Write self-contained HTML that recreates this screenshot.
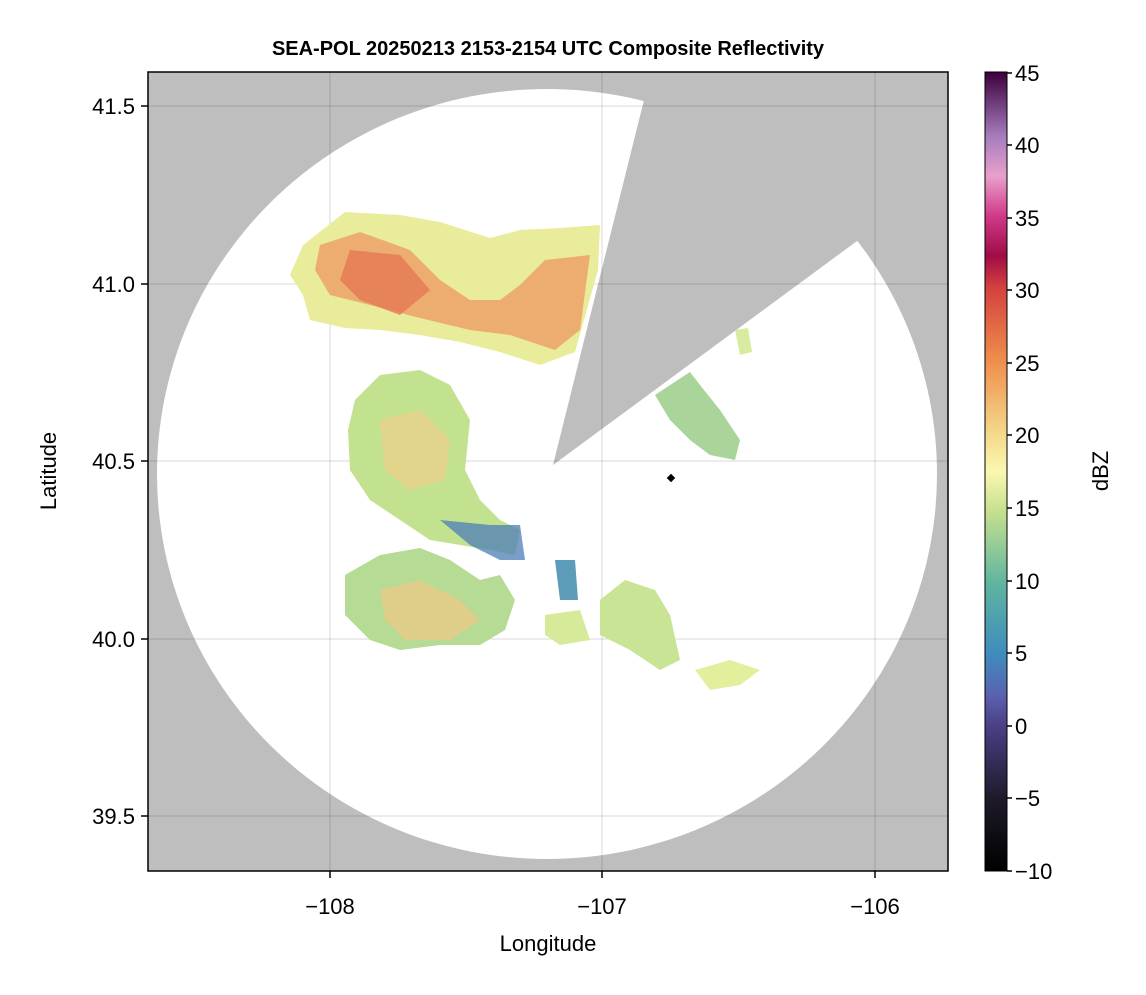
<!DOCTYPE html>
<html><head><meta charset="utf-8"><style>
body{margin:0;background:#fff;}
svg text{font-family:"Liberation Sans",sans-serif;}
</style></head><body>
<svg width="1146" height="990" viewBox="0 0 1146 990" xmlns="http://www.w3.org/2000/svg">
<defs>
<clipPath id="pa"><rect x="148" y="72" width="800" height="799"/></clipPath>
<linearGradient id="cb" x1="0" y1="1" x2="0" y2="0">
<stop offset="0" stop-color="#000000"/>
<stop offset="0.09" stop-color="#1e1a28"/>
<stop offset="0.18" stop-color="#4a3f85"/>
<stop offset="0.22" stop-color="#5a62b0"/>
<stop offset="0.27" stop-color="#3f8bbd"/>
<stop offset="0.36" stop-color="#5fb59f"/>
<stop offset="0.45" stop-color="#c5e08e"/>
<stop offset="0.5" stop-color="#fbf8b0"/>
<stop offset="0.55" stop-color="#f4d68a"/>
<stop offset="0.64" stop-color="#ef8d4b"/>
<stop offset="0.73" stop-color="#d4413f"/>
<stop offset="0.77" stop-color="#a00d45"/>
<stop offset="0.82" stop-color="#d0398a"/>
<stop offset="0.87" stop-color="#e8a0cc"/>
<stop offset="0.92" stop-color="#a57cbc"/>
<stop offset="1" stop-color="#3d003c"/>
</linearGradient>
</defs>
<g clip-path="url(#pa)">
<rect x="148" y="72" width="800" height="799" fill="#bebebe"/>
<ellipse cx="547" cy="474" rx="390" ry="385" fill="#fff"/>
<polygon points="553,465 651,72 948,72 948,174" fill="#bebebe"/>
<g stroke="#000" stroke-opacity="0.1" stroke-width="1.5">
<line x1="330" y1="72" x2="330" y2="871"/><line x1="602" y1="72" x2="602" y2="871"/><line x1="875" y1="72" x2="875" y2="871"/>
<line x1="148" y1="106" x2="948" y2="106"/><line x1="148" y1="284" x2="948" y2="284"/><line x1="148" y1="461" x2="948" y2="461"/><line x1="148" y1="639" x2="948" y2="639"/><line x1="148" y1="816" x2="948" y2="816"/>
</g>
<polygon points="303,245 345,212 400,215 440,222 490,238 520,230 560,228 600,225 598,270 575,352 540,365 500,352 460,342 420,335 380,330 345,328 310,320 303,295 290,275" fill="#e9ec9a"/>
<polygon points="320,245 360,232 410,250 440,280 470,300 500,300 520,285 545,260 590,255 580,330 555,350 510,335 470,330 420,318 370,305 330,295 315,270" fill="#ee9e66" opacity="0.8"/>
<polygon points="350,250 400,255 430,290 400,315 360,300 340,280" fill="#e3704e" opacity="0.7"/>
<polygon points="655,395 690,372 700,385 720,410 740,440 735,460 710,455 690,440 670,420" fill="#a9d59a"/>
<polygon points="735,330 748,328 752,352 740,355" fill="#d8eba0"/>
<polygon points="355,400 380,375 420,370 450,385 470,420 465,470 480,500 500,520 520,530 515,555 490,550 460,545 430,540 400,520 370,500 350,470 348,430" fill="#c3e290"/>
<polygon points="380,420 420,410 450,440 445,480 410,490 385,470" fill="#f1cf8a" opacity="0.7"/>
<polygon points="440,520 490,525 520,525 525,560 500,560 470,545" fill="#4c7db8" opacity="0.75"/>
<polygon points="345,575 380,555 420,548 450,560 480,580 500,575 515,600 505,630 480,645 440,645 400,650 370,640 345,615" fill="#b5db94"/>
<polygon points="380,590 420,580 460,600 480,620 450,640 405,640 385,620" fill="#efc985" opacity="0.7"/>
<polygon points="545,615 580,610 590,640 560,645 545,635" fill="#d6ea9a"/>
<polygon points="600,600 625,580 655,590 670,615 680,660 660,670 630,650 600,635" fill="#c8e494"/>
<polygon points="555,560 575,560 578,600 560,600" fill="#5c9cb9"/>
<polygon points="695,670 730,660 760,670 740,685 710,690" fill="#e4ef9e"/>
</g>
<rect x="668" y="475" width="6" height="6" transform="rotate(45 671 478)" fill="#000"/>
<rect x="148" y="72" width="800" height="799" fill="none" stroke="#000" stroke-width="1.5"/>
<g stroke="#000" stroke-width="1.5">
<line x1="330" y1="871" x2="330" y2="878"/><line x1="602" y1="871" x2="602" y2="878"/><line x1="875" y1="871" x2="875" y2="878"/>
<line x1="141" y1="106" x2="148" y2="106"/><line x1="141" y1="284" x2="148" y2="284"/><line x1="141" y1="461" x2="148" y2="461"/><line x1="141" y1="639" x2="148" y2="639"/><line x1="141" y1="816" x2="148" y2="816"/>
</g>
<g font-size="22" fill="#000">
<text x="330" y="914" text-anchor="middle">−108</text>
<text x="602" y="914" text-anchor="middle">−107</text>
<text x="875" y="914" text-anchor="middle">−106</text>
<g text-anchor="end">
<text x="135" y="114">41.5</text><text x="135" y="292">41.0</text><text x="135" y="469">40.5</text><text x="135" y="647">40.0</text><text x="135" y="824">39.5</text>
</g>
<text x="548" y="951" text-anchor="middle">Longitude</text>
<text transform="translate(56 471) rotate(-90)" text-anchor="middle">Latitude</text>
<text x="548" y="55" text-anchor="middle" font-weight="bold" font-size="20">SEA-POL 20250213 2153-2154 UTC Composite Reflectivity</text>
</g>
<rect x="985" y="72" width="22" height="799" fill="url(#cb)" stroke="#000" stroke-width="1"/>
<g font-size="22" fill="#000">
<text x="1015" y="879">−10</text><text x="1015" y="806">−5</text><text x="1015" y="734">0</text><text x="1015" y="661">5</text><text x="1015" y="589">10</text><text x="1015" y="516">15</text><text x="1015" y="443">20</text><text x="1015" y="371">25</text><text x="1015" y="298">30</text><text x="1015" y="226">35</text><text x="1015" y="153">40</text><text x="1015" y="81">45</text>
<text transform="translate(1108 471) rotate(-90)" text-anchor="middle">dBZ</text>
</g>
<g stroke="#000" stroke-width="1.5">
<line x1="1007" y1="871" x2="1012" y2="871"/><line x1="1007" y1="798" x2="1012" y2="798"/><line x1="1007" y1="726" x2="1012" y2="726"/><line x1="1007" y1="653" x2="1012" y2="653"/><line x1="1007" y1="581" x2="1012" y2="581"/><line x1="1007" y1="508" x2="1012" y2="508"/><line x1="1007" y1="435" x2="1012" y2="435"/><line x1="1007" y1="363" x2="1012" y2="363"/><line x1="1007" y1="290" x2="1012" y2="290"/><line x1="1007" y1="218" x2="1012" y2="218"/><line x1="1007" y1="145" x2="1012" y2="145"/><line x1="1007" y1="73" x2="1012" y2="73"/>
</g>
</svg>
</body></html>
